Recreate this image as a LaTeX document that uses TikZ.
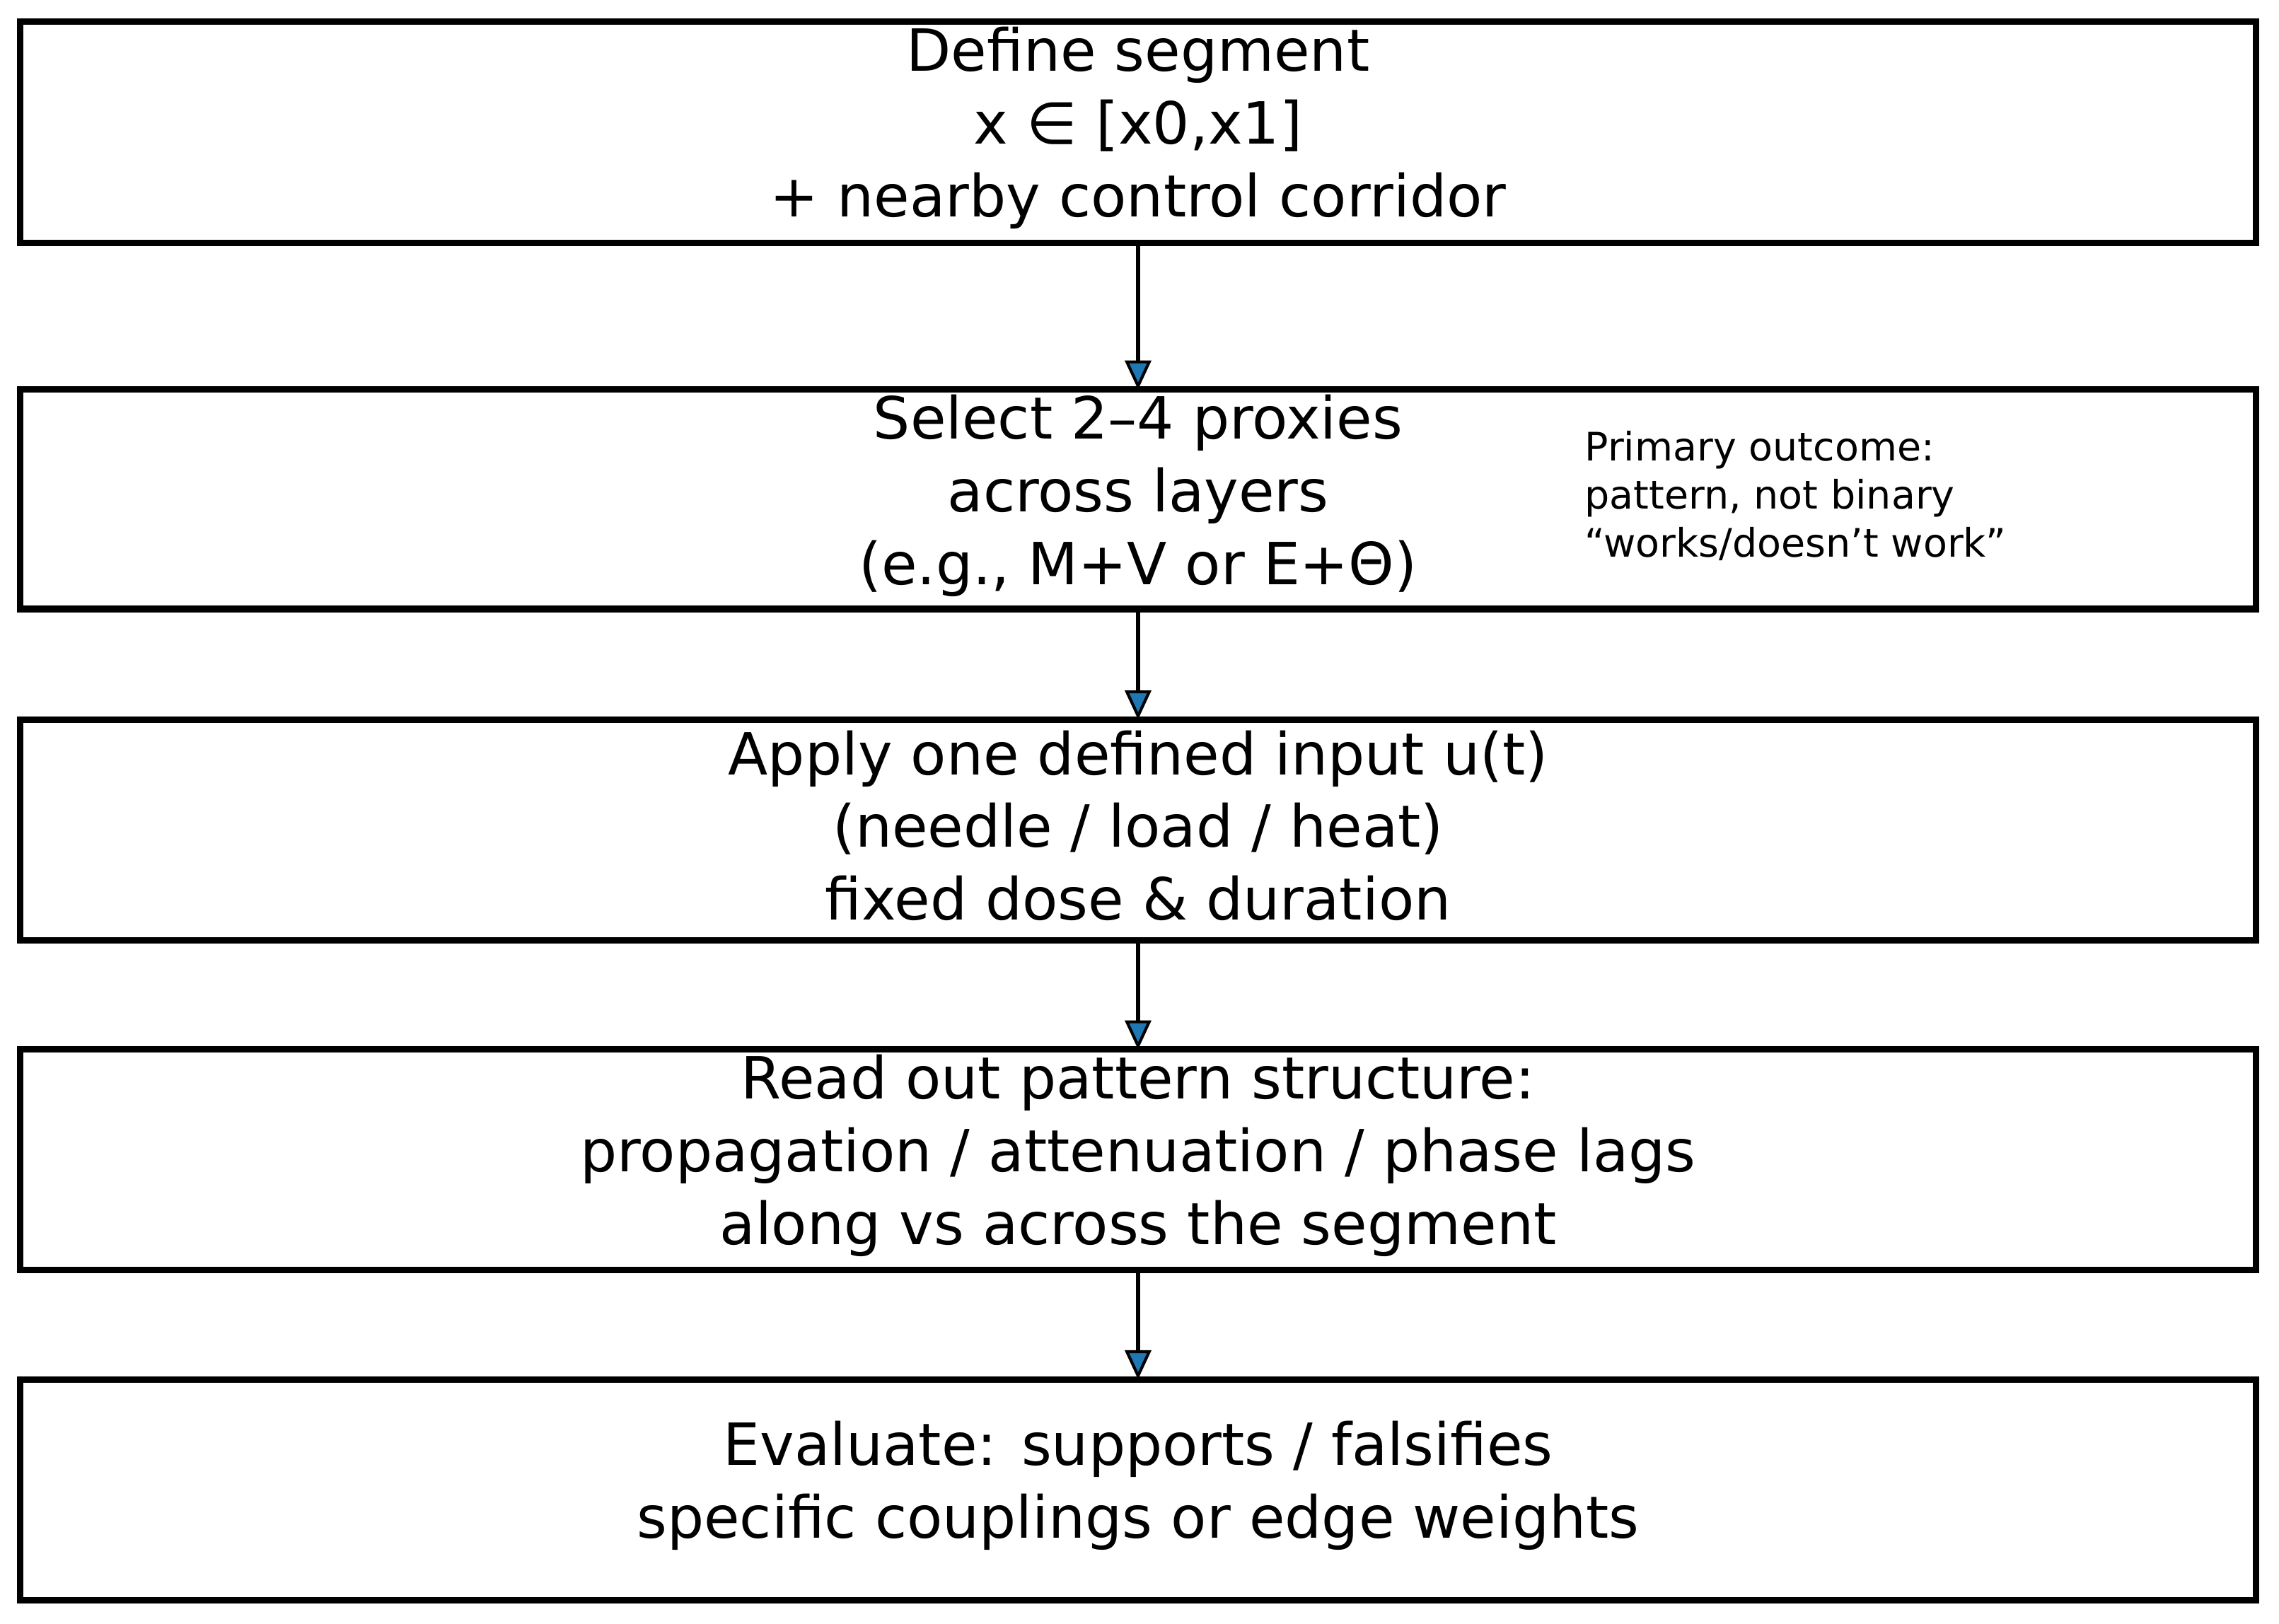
\documentclass[tikz,border=0pt]{standalone}
\usepackage{fontspec}
\setmainfont{DejaVu Sans}
\usetikzlibrary{arrows.meta}
\begin{document}
\begin{tikzpicture}[x=0.5pt,y=-0.5pt,
  box/.style={draw,line width=2.2pt},
  lbl/.style={align=center,font=\fontsize{20}{25}\selectfont,inner sep=0},
  arr/.style={line width=1.6pt,-{Triangle[length=10pt,width=9pt,fill={rgb,255:red,31;green,119;blue,180},line width=1pt]}}]
\useasboundingbox (0,0) rectangle (1568,1117);
\draw[box] (14,15) rectangle (1552,167); \coordinate (b1) at (783,167);
\draw[box] (14,268) rectangle (1552,419); \coordinate (t2) at (783,268); \coordinate (b2) at (783,419);
\draw[box] (14,495) rectangle (1552,647); \coordinate (t3) at (783,495); \coordinate (b3) at (783,647);
\draw[box] (14,722) rectangle (1552,874); \coordinate (t4) at (783,722); \coordinate (b4) at (783,874);
\draw[box] (14,949) rectangle (1552,1101); \coordinate (t5) at (783,949);
\node[lbl] (n1) at (783,88) {Define segment\\x ∈ [x0,x1]\\+ nearby control corridor};
\node[lbl] (n2) at (783,341) {Select 2–4 proxies\\across layers\\(e.g., M+V or E+Θ)};
\node[lbl] (n3) at (783,568) {Apply one defined input u(t)\\(needle / load / heat)\\fixed dose \& duration};
\node[lbl] (n4) at (783,795) {Read out pattern structure:\\propagation / attenuation / phase lags\\along vs across the segment};
\node[lbl] (n5) at (783,1022) {Evaluate: supports / falsifies\\specific couplings or edge weights};
\node[align=left,anchor=west,font=\fontsize{13.5}{16.5}\selectfont,inner sep=0] (note) at (1090,341) {Primary outcome:\\pattern, not binary\\“works/doesn’t work”};
\draw[arr] (b1) -- (t2);
\draw[arr] (b2) -- (t3);
\draw[arr] (b3) -- (t4);
\draw[arr] (b4) -- (t5);
\end{tikzpicture}
\end{document}
